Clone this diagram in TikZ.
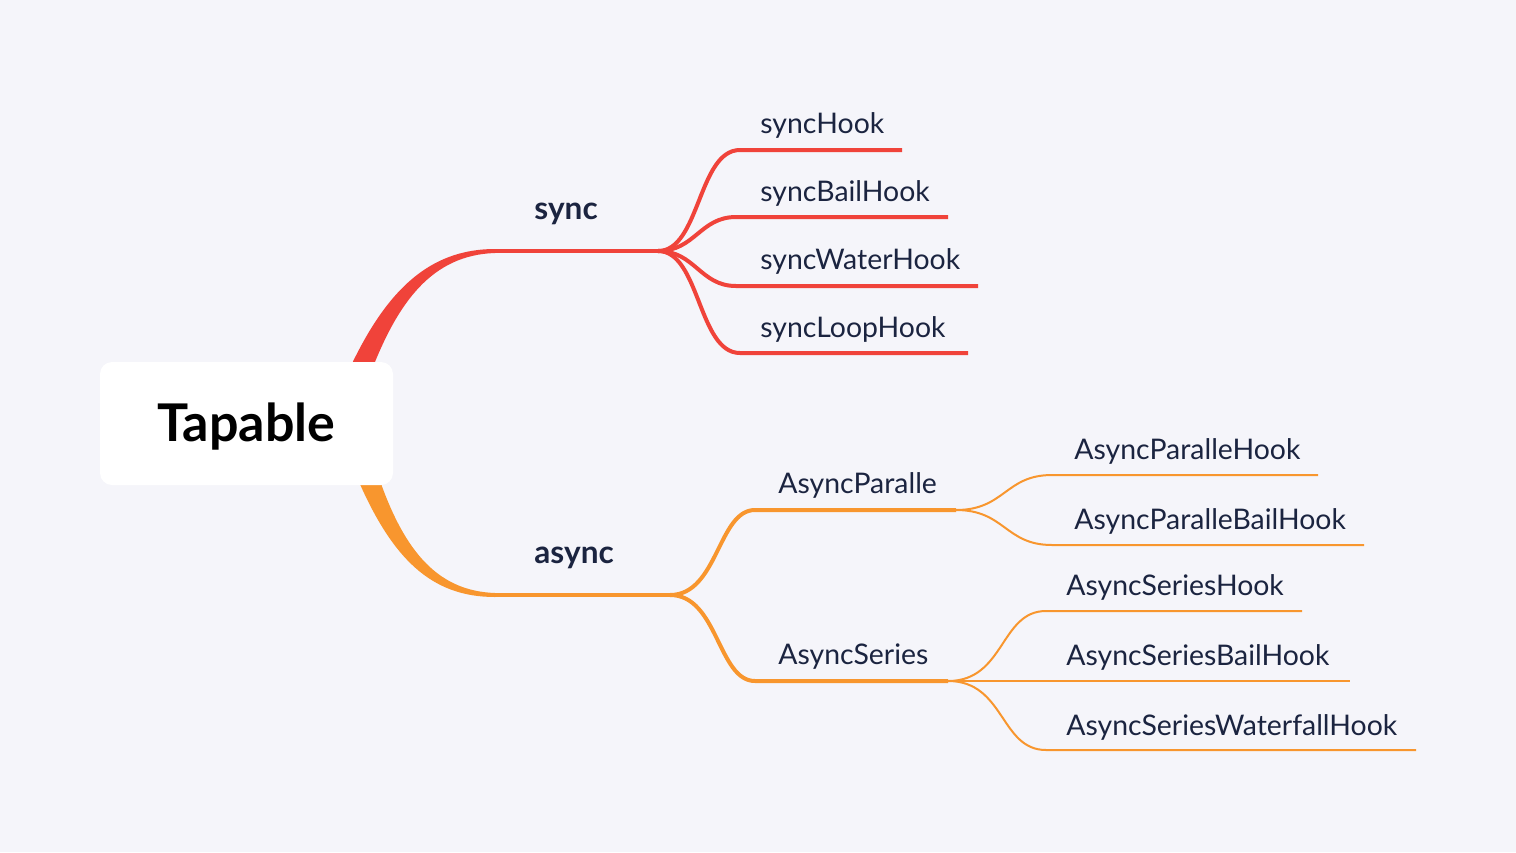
\documentclass[tikz,border=0pt]{standalone}
\usepackage{fontspec}
\setmainfont{Lato}
\definecolor{bgc}{HTML}{F5F5FA}
\definecolor{redc}{HTML}{F0433A}
\definecolor{orgc}{HTML}{F8962E}
\definecolor{txtc}{HTML}{1B2440}
\begin{document}
\begin{tikzpicture}[x=0.5pt,y=-0.5pt,
  rootbox/.style={fill=white,rounded corners=6pt,minimum width=146.5pt,minimum height=61.5pt,inner sep=0pt},
  roottext/.style={anchor=base,inner sep=0pt,font=\fontsize{26}{30}\selectfont\bfseries,text=black},
  lbl/.style={anchor=base west,inner sep=0pt,text=txtc,font=\fontsize{14.2}{17}\selectfont},
  mainlbl/.style={lbl,font=\fontsize{15.8}{19}\selectfont\bfseries},
  redline/.style={draw=redc,line width=2pt},
  orgline/.style={draw=orgc,line width=2pt},
  orgmid/.style={draw=orgc,line width=1.5pt},
  orgthin/.style={draw=orgc,line width=1pt}]
\fill[bgc] (0,0) rectangle (1516,852);
\useasboundingbox (0,0) rectangle (1516,852);

% coordinates
\coordinate (syncA) at (495,251);
\coordinate (syncB) at (658,251);
\coordinate (asyncA) at (495,595);
\coordinate (asyncB) at (670,595);
\coordinate (h1s) at (740,150);  \coordinate (h1e) at (902,150);
\coordinate (h2s) at (736,217);  \coordinate (h2e) at (948,217);
\coordinate (h3s) at (736,286);  \coordinate (h3e) at (978,286);
\coordinate (h4s) at (740,353);  \coordinate (h4e) at (968,353);
\coordinate (ps) at (755,510);   \coordinate (pe) at (956,510);
\coordinate (ss) at (755,681);   \coordinate (se) at (948,681);
\coordinate (p1s) at (1052,475); \coordinate (p1e) at (1318,475);
\coordinate (p2s) at (1052,545); \coordinate (p2e) at (1364,545);
\coordinate (s1s) at (1046,611); \coordinate (s1e) at (1302,611);
\coordinate (s2e) at (1350,681);
\coordinate (s3s) at (1046,750); \coordinate (s3e) at (1416,750);

% main tapered branches
\fill[redc] (348,372) .. controls (385,292) and (428,249) .. (495,249)
  -- (495,253) .. controls (432,255) and (398,302) .. (371,372) -- cycle;
\fill[orgc] (356,475) .. controls (392,560) and (432,597) .. (495,597)
  -- (495,593) .. controls (440,591) and (405,555) .. (378,475) -- cycle;

% horizontal main
\draw[redline] (syncA) -- (syncB);
\draw[orgline] (asyncA) -- (asyncB);

% sync children
\draw[redline] (syncB) .. controls (700,251) and (698,150) .. (h1s) -- (h1e);
\draw[redline] (syncB) .. controls (695,251) and (700,217) .. (h2s) -- (h2e);
\draw[redline] (syncB) .. controls (695,251) and (700,286) .. (h3s) -- (h3e);
\draw[redline] (syncB) .. controls (700,251) and (698,353) .. (h4s) -- (h4e);

% async children
\draw[orgline] (asyncB) .. controls (718,595) and (718,510) .. (ps) -- (pe);
\draw[orgline] (asyncB) .. controls (718,595) and (718,681) .. (ss) -- (se);

% parallel children
\draw[orgthin] (pe) .. controls (1005,510) and (1005,475) .. (p1s) -- (p1e);
\draw[orgthin] (pe) .. controls (1005,510) and (1005,545) .. (p2s) -- (p2e);
\draw[orgmid] (ps) -- (pe);

% series children
\draw[orgthin] (se) .. controls (1005,681) and (1000,611) .. (s1s) -- (s1e);
\draw[orgthin] (se) -- (s2e);
\draw[orgthin] (se) .. controls (1005,681) and (1000,750) .. (s3s) -- (s3e);
\draw[orgmid] (ss) -- (se);

% root
\node[rootbox] (root) at (246.5,423.5) {};
\node[roottext] (roottxt) at (246.5,441) {Tapable};

% labels
\node[mainlbl] (sync) at (534,219) {sync};
\node[mainlbl] (async) at (534,563) {async};
\node[lbl] (l1) at (760,133) {syncHook};
\node[lbl] (l2) at (760,201) {syncBailHook};
\node[lbl] (l3) at (760,269) {syncWaterHook};
\node[lbl] (l4) at (760,337) {syncLoopHook};
\node[lbl] (lp) at (778,493) {AsyncParalle};
\node[lbl] (ls) at (778,664) {AsyncSeries};
\node[lbl] (lp1) at (1074,459) {AsyncParalleHook};
\node[lbl] (lp2) at (1074,529) {AsyncParalleBailHook};
\node[lbl] (ls1) at (1066,595) {AsyncSeriesHook};
\node[lbl] (ls2) at (1066,665) {AsyncSeriesBailHook};
\node[lbl] (ls3) at (1066,735) {AsyncSeriesWaterfallHook};
\end{tikzpicture}
\end{document}
